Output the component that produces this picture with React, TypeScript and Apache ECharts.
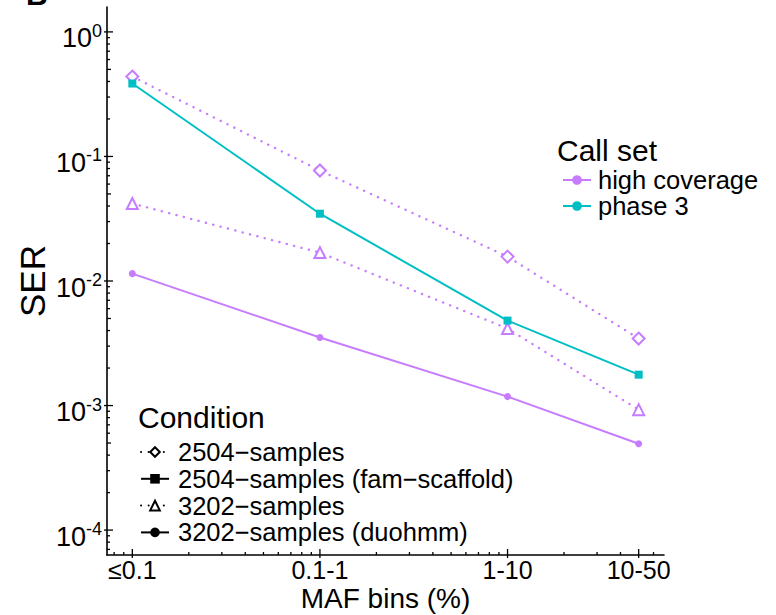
import React, { useEffect, useRef } from 'react';
import * as echarts from 'echarts';

// ---- data ----
const binLabels = ['≤0.1', '0.1-1', '1-10', '10-50'];
const binPositions = [0.1, 1, 10, 50];
const hc2504 = [0.438, 0.0771, 0.0157, 0.00345];
const p3FamScaffold = [0.385, 0.0347, 0.00481, 0.00177];
const hc3202 = [0.0419, 0.0169, 0.00415, 0.000927];
const hc3202Duohmm = [0.01146, 0.00352, 0.00118, 0.000494];
const yMajorExponents = [0, -1, -2, -3, -4];
const conditionNames = [
  '2504\u2212samples',
  '2504\u2212samples (fam\u2212scaffold)',
  '3202\u2212samples',
  '3202\u2212samples (duohmm)',
];
const callSetNames = ['high coverage', 'phase 3'];

const PURPLE = '#C77CFF';
const TEAL = '#00BFC4';
const FONT = "'Liberation Sans', Arial, Helvetica, sans-serif";

const X_MIN = Math.pow(10, -1.135);
const X_MAX = Math.pow(10, 1.834);
const Y_MIN = Math.pow(10, -4.2);
const Y_MAX = Math.pow(10, 0.2);

function logTicks(lo: number, hi: number, eLo: number, eHi: number) {
  const out: { v: number; k: number }[] = [];
  for (let e = eLo; e <= eHi; e++) {
    for (let k = 1; k <= 9; k++) {
      const v = k * Math.pow(10, e);
      if (v >= lo * 1.0001 && v <= hi * 0.9999) out.push({ v, k });
    }
  }
  return out;
}

export default function App() {
  const ref = useRef<HTMLDivElement>(null);
  useEffect(() => {
    document.body.style.margin = '0';
    if (!ref.current) return;
    const chart = echarts.init(ref.current, undefined, { renderer: 'svg' });

    const yTicks = logTicks(Y_MIN, Y_MAX, -5, 0);
    const xMinor = logTicks(X_MIN, X_MAX, -2, 1).filter(
      (t) => !binPositions.some((b) => Math.abs(b - t.v) < 1e-9)
    );

    const dotted = [0.1, 7.5];
    const legendText = (pad: number) => ({
      fontSize: 25.5,
      color: '#000',
      fontFamily: FONT,
      lineHeight: 25,
      padding: [0, 0, 0, pad],
    });

    const option: any = {
      animation: false,
      textStyle: { fontFamily: FONT, color: '#000' },
      grid: { left: 107, right: 112, top: 7, bottom: 60, outerBoundsMode: 'none', containLabel: false },
      xAxis: {
        type: 'log',
        logBase: 10,
        min: X_MIN,
        max: X_MAX,
        name: 'MAF bins (%)',
        nameLocation: 'middle',
        nameGap: 29,
        nameTextStyle: { fontSize: 28, color: '#000', fontFamily: FONT, lineHeight: 28 },
        axisLine: { show: true, onZero: false, lineStyle: { color: '#000', width: 1.6 } },
        axisTick: { show: false },
        axisLabel: { show: false },
        splitLine: { show: false },
        minorTick: { show: false },
      },
      yAxis: {
        type: 'log',
        logBase: 10,
        min: Y_MIN,
        max: Y_MAX,
        name: 'SER',
        nameLocation: 'middle',
        nameGap: 57,
        nameTextStyle: { fontSize: 35, color: '#000', fontFamily: FONT },
        axisLine: { show: true, onZero: false, lineStyle: { color: '#000', width: 1.6 } },
        axisTick: { show: false },
        axisLabel: { show: false },
        splitLine: { show: false },
        minorTick: { show: false },
      },
      legend: [
        {
          orient: 'vertical',
          left: 140,
          top: 439,
          padding: 0,
          itemWidth: 28,
          itemHeight: 12,
          itemGap: 0.8,
          selectedMode: false,
          textStyle: legendText(4),
          data: [
            { name: conditionNames[0], itemStyle: { color: '#000' }, lineStyle: { color: '#000', type: dotted, cap: 'round', width: 2 } },
            { name: conditionNames[1], itemStyle: { color: '#000' }, lineStyle: { color: '#000', type: 'solid', width: 2 } },
            { name: conditionNames[2], itemStyle: { color: '#000' }, lineStyle: { color: '#000', type: dotted, cap: 'round', width: 2 } },
            { name: conditionNames[3], itemStyle: { color: '#000' }, lineStyle: { color: '#000', type: 'solid', width: 2 } },
          ],
        },
        {
          orient: 'vertical',
          left: 562,
          top: 167,
          padding: 0,
          itemWidth: 28,
          itemHeight: 12,
          itemGap: 0,
          selectedMode: false,
          textStyle: legendText(2),
          data: callSetNames,
        },
      ],
      graphic: [
        { type: 'text', x: 138, y: 417, style: { text: 'Condition', fontSize: 30, fontFamily: FONT, fill: '#000', verticalAlign: 'middle' } },
        { type: 'text', x: 557, y: 150, style: { text: 'Call set', fontSize: 30, fontFamily: FONT, fill: '#000', verticalAlign: 'middle' } },
        { type: 'text', x: 26, y: 9, style: { text: 'B', fontSize: 30, fontWeight: 'bold', fontFamily: FONT, fill: '#000', verticalAlign: 'bottom' } },
      ],
      series: [
        {
          name: conditionNames[0],
          type: 'line',
          data: binPositions.map((x, i) => [x, hc2504[i]]),
          symbol: 'emptyDiamond',
          symbolSize: 12,
          itemStyle: { color: PURPLE },
          lineStyle: { color: PURPLE, width: 2.4, type: dotted, cap: 'round' },
          z: 3,
        },
        {
          name: conditionNames[1],
          type: 'line',
          data: binPositions.map((x, i) => [x, p3FamScaffold[i]]),
          symbol: 'rect',
          symbolSize: 8,
          itemStyle: { color: TEAL },
          lineStyle: { color: TEAL, width: 2, type: 'solid' },
          z: 4,
        },
        {
          name: conditionNames[2],
          type: 'line',
          data: binPositions.map((x, i) => [x, hc3202[i]]),
          symbol: 'emptyTriangle',
          symbolSize: 11,
          itemStyle: { color: PURPLE },
          lineStyle: { color: PURPLE, width: 2.4, type: dotted, cap: 'round' },
          z: 3,
        },
        {
          name: conditionNames[3],
          type: 'line',
          data: binPositions.map((x, i) => [x, hc3202Duohmm[i]]),
          symbol: 'circle',
          symbolSize: 7,
          itemStyle: { color: PURPLE },
          lineStyle: { color: PURPLE, width: 2, type: 'solid' },
          z: 3,
        },
        {
          name: callSetNames[0],
          type: 'line',
          data: [],
          symbol: 'circle',
          symbolSize: 7,
          itemStyle: { color: PURPLE },
          lineStyle: { color: PURPLE, width: 2 },
        },
        {
          name: callSetNames[1],
          type: 'line',
          data: [],
          symbol: 'circle',
          symbolSize: 7,
          itemStyle: { color: TEAL },
          lineStyle: { color: TEAL, width: 2 },
        },
        // y ticks (log ticks inside, majors also outside)
        {
          type: 'custom',
          name: 'yTicks',
          silent: true,
          clip: false,
          z: 5,
          data: yTicks.map((t) => [X_MIN, t.v, t.k]),
          renderItem: (params: any, api: any) => {
            const p = api.coord([api.value(0), api.value(1)]);
            const k = api.value(2);
            const inner = k === 1 ? 6 : k === 5 ? 4 : 3;
            const outer = k === 1 ? 3 : 0;
            return {
              type: 'line',
              shape: { x1: p[0] - outer, y1: p[1], x2: p[0] + inner, y2: p[1] },
              style: { stroke: '#000', lineWidth: 1.3 },
            };
          },
        },
        // x minor ticks
        {
          type: 'custom',
          name: 'xTicks',
          silent: true,
          clip: false,
          z: 5,
          data: xMinor.map((t) => [t.v, Y_MIN, t.k]),
          renderItem: (params: any, api: any) => {
            const p = api.coord([api.value(0), api.value(1)]);
            const k = api.value(2);
            const inner = k === 1 ? 6 : 3;
            return {
              type: 'line',
              shape: { x1: p[0], y1: p[1], x2: p[0], y2: p[1] - inner },
              style: { stroke: '#000', lineWidth: 1.3 },
            };
          },
        },
        // x major ticks + labels at bins
        {
          type: 'custom',
          name: 'xLabels',
          silent: true,
          clip: false,
          z: 5,
          data: binPositions.map((v) => [v, Y_MIN]),
          renderItem: (params: any, api: any) => {
            const p = api.coord([api.value(0), api.value(1)]);
            return {
              type: 'group',
              children: [
                {
                  type: 'line',
                  shape: { x1: p[0], y1: p[1] + 3, x2: p[0], y2: p[1] - 6 },
                  style: { stroke: '#000', lineWidth: 1.3 },
                },
                {
                  type: 'text',
                  x: p[0],
                  y: p[1] + 15,
                  style: {
                    text: binLabels[params.dataIndex],
                    fontSize: 25,
                    fontFamily: FONT,
                    fill: '#000',
                    align: 'center',
                    verticalAlign: 'middle',
                  },
                },
              ],
            };
          },
        },
        // y labels 10^k
        {
          type: 'custom',
          name: 'yLabels',
          silent: true,
          clip: false,
          z: 5,
          data: yMajorExponents.map((e) => [X_MIN, Math.pow(10, e)]),
          renderItem: (params: any, api: any) => {
            const p = api.coord([api.value(0), api.value(1)]);
            const e = yMajorExponents[params.dataIndex];
            const sup = e === 0 ? '0' : '-' + String(-e);
            return {
              type: 'text',
              x: p[0] - 5,
              y: p[1] + 5,
              style: {
                text: '{a|10}{b|' + sup + '}',
                align: 'right',
                verticalAlign: 'middle',
                fill: '#000',
                rich: {
                  a: { fontSize: 27, fontFamily: FONT, fill: '#000', lineHeight: 30, verticalAlign: 'bottom' },
                  b: { fontSize: 18, fontFamily: FONT, fill: '#000', lineHeight: 18, verticalAlign: 'top' },
                },
              },
            };
          },
        },
      ],
    };

    chart.setOption(option);
    return () => chart.dispose();
  }, []);

  return <div ref={ref} style={{ width: 776, height: 615 }} />;
}
